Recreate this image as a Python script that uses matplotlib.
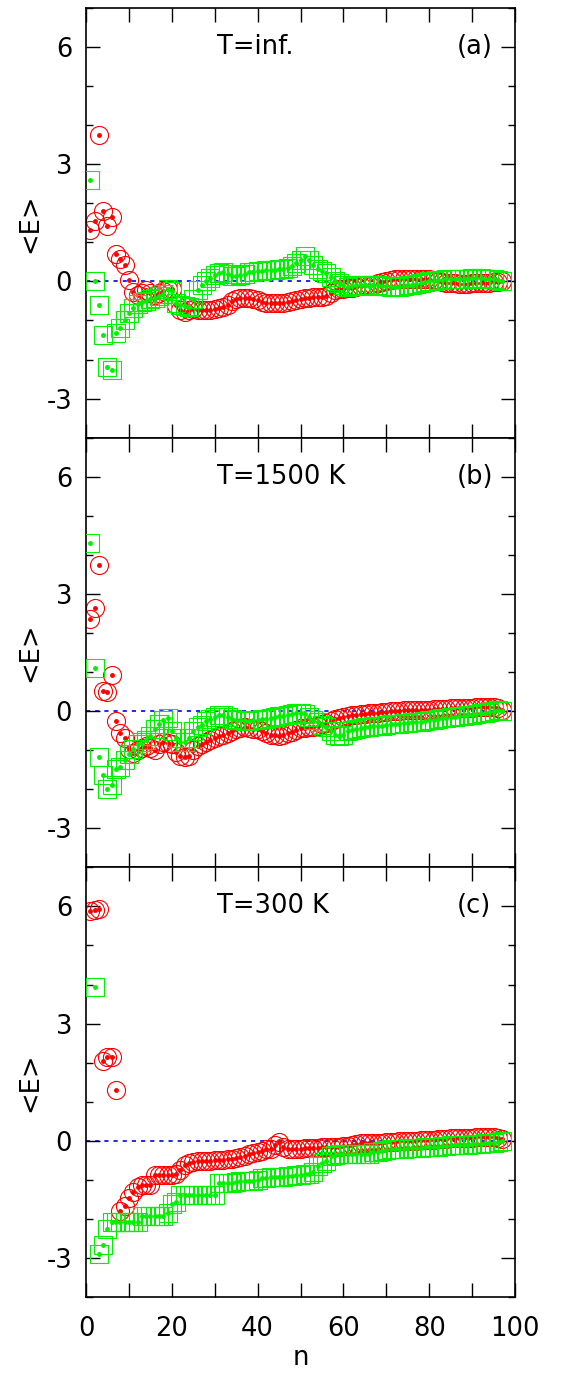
import matplotlib
matplotlib.use("Agg")
import matplotlib.pyplot as plt
from matplotlib.ticker import MultipleLocator, FixedLocator, FuncFormatter

plt.rcParams['font.family'] = ['DejaVu Sans']
plt.rcParams['axes.unicode_minus'] = False

nan = float('nan')
n = list(range(1, 98))

# panel (a) T=inf.
red_a = [1.31, 1.55, 3.75, 1.80, 1.41, 1.65, 0.69, 0.58, 0.41, 0.03,
         -0.27, -0.35, -0.30, -0.22, -0.30, -0.35, -0.30, -0.25, -0.20, -0.20,
         -0.60, -0.72, -0.78, -0.74, -0.70, -0.72, -0.74, -0.74, -0.72, -0.70,
         -0.68, -0.66, -0.60, -0.50, -0.45, -0.42, -0.42, -0.42, -0.45, -0.48,
         -0.52, -0.55, -0.56, -0.56, -0.55, -0.55, -0.53, -0.50, -0.48, -0.45,
         -0.42, -0.42, -0.40, -0.40, -0.40, -0.38, -0.30, -0.23, -0.20, -0.19,
         -0.18, -0.17, -0.15, -0.12, -0.10, -0.10, -0.08, -0.05, -0.02, 0.02,
         0.03, 0.05, 0.06, 0.06, 0.06, 0.05, 0.05, 0.06, 0.06, 0.05,
         0.03, 0.00, -0.02, -0.03, -0.04, -0.05, -0.06, -0.06, -0.06, -0.05,
         -0.04, -0.03, -0.03, -0.03, -0.02, -0.01, 0.00]
green_a = [2.60, 0.00, -0.60, -1.37, -2.18, -2.28, -1.33, -1.20, -1.00, -0.80,
           -0.68, -0.58, -0.53, -0.50, -0.46, -0.42, -0.38, -0.33, -0.20, -0.25,
           -0.55, -0.60, -0.62, -0.66, -0.45, -0.23, -0.08, 0.02, 0.10, 0.17,
           0.22, 0.25, 0.18, 0.14, 0.14, 0.17, 0.20, 0.23, 0.24, 0.26,
           0.27, 0.28, 0.29, 0.30, 0.32, 0.33, 0.35, 0.40, 0.46, 0.56,
           0.64, 0.55, 0.42, 0.33, 0.26, 0.22, 0.12, 0.00, -0.04, -0.10,
           -0.14, -0.13, -0.10, -0.09, -0.10, -0.11, -0.10, -0.10, -0.12, -0.13,
           -0.14, -0.15, -0.15, -0.13, -0.10, -0.08, -0.07, -0.05, -0.02, 0.00,
           0.02, 0.03, 0.04, 0.05, 0.05, 0.06, 0.06, 0.07, 0.07, 0.08,
           0.08, 0.08, 0.07, 0.06, 0.05, 0.03, 0.00]

# panel (b) T=1500 K
red_b = [2.35, 2.63, 3.75, 0.51, 0.49, 0.92, -0.26, -0.56, -0.70, -0.98,
         -1.07, -1.00, -0.95, -0.90, -0.95, -1.00, -0.85, -0.80, -0.82, -0.85,
         -1.05, -1.15, -1.18, -1.14, -1.00, -0.90, -0.85, -0.80, -0.75, -0.70,
         -0.64, -0.60, -0.55, -0.51, -0.45, -0.43, -0.42, -0.43, -0.45, -0.47,
         -0.50, -0.55, -0.60, -0.62, -0.63, -0.60, -0.57, -0.54, -0.48, -0.43,
         -0.43, -0.42, -0.40, -0.37, -0.34, -0.30, -0.25, -0.21, -0.18, -0.15,
         -0.12, -0.10, -0.10, -0.08, -0.07, -0.06, -0.05, -0.04, -0.03, -0.02,
         -0.01, 0.00, 0.01, 0.02, 0.02, 0.03, 0.03, 0.04, 0.04, 0.04,
         0.05, 0.05, 0.06, 0.06, 0.07, 0.07, 0.08, 0.08, 0.09, 0.09,
         0.10, 0.10, 0.10, 0.11, 0.11, 0.08, 0.04]
green_b = [4.31, 1.11, -1.17, -1.64, -1.99, -1.88, -1.49, -1.44, -1.25, -1.10,
           -0.98, -0.85, -0.78, -0.75, -0.65, -0.47, -0.34, -0.24, -0.18, -0.50,
           -0.70, -0.80, -0.80, -0.70, -0.50, -0.42, -0.35, -0.25, -0.19, -0.15,
           -0.10, -0.10, -0.15, -0.20, -0.22, -0.23, -0.25, -0.26, -0.24, -0.22,
           -0.21, -0.20, -0.18, -0.15, -0.13, -0.12, -0.10, -0.07, -0.05, -0.04,
           -0.08, -0.15, -0.22, -0.28, -0.35, -0.42, -0.50, -0.60, -0.64, -0.60,
           -0.52, -0.48, -0.45, -0.43, -0.42, -0.40, -0.39, -0.38, -0.37, -0.36,
           -0.34, -0.33, -0.32, -0.31, -0.30, -0.29, -0.28, -0.27, -0.26, -0.24,
           -0.22, -0.20, -0.18, -0.17, -0.16, -0.14, -0.13, -0.12, -0.10, -0.09,
           -0.08, -0.06, -0.04, -0.02, 0.00, 0.02, 0.00]

# panel (c) T=300 K
red_c = [5.87, 5.92, 5.94, 2.03, 2.14, 2.15, 1.30, -1.80, -1.67, -1.46,
         -1.31, -1.18, -1.14, -1.14, -1.14, -0.88, -0.88, -0.88, -0.88, -0.88,
         -0.86, -0.75, -0.61, -0.56, -0.54, -0.53, -0.52, -0.52, -0.51, -0.50,
         -0.49, -0.48, -0.47, -0.46, -0.44, -0.41, -0.38, -0.35, -0.32, -0.28,
         -0.25, -0.22, -0.20, -0.12, -0.02, -0.15, -0.20, -0.20, -0.20, -0.20,
         -0.19, -0.19, -0.18, -0.18, -0.17, -0.17, -0.16, -0.15, -0.15, -0.14,
         -0.13, -0.12, -0.08, -0.05, -0.05, -0.05, -0.05, -0.05, -0.05, -0.04,
         -0.03, -0.02, -0.01, 0.00, 0.00, 0.00, 0.00, 0.01, 0.02, 0.03,
         0.03, 0.04, 0.05, 0.05, 0.06, 0.06, 0.07, 0.07, 0.08, 0.08,
         0.09, 0.09, 0.10, 0.10, 0.10, 0.08, 0.05]
green_c = [nan, 3.94, -2.90, -2.66, -2.26, -2.09, -2.09, -2.09, -2.09, -2.09,
           -2.09, -2.09, -1.92, -1.92, -1.92, -1.92, -1.92, -1.92, -1.85, -1.63,
           -1.57, -1.38, -1.38, -1.38, -1.38, -1.38, -1.38, -1.38, -1.38, -1.38,
           -1.09, -1.09, -1.09, -1.09, -1.05, -1.03, -1.03, -1.03, -1.02, -1.00,
           -0.95, -0.95, -0.94, -0.93, -0.92, -0.92, -0.90, -0.89, -0.88, -0.87,
           -0.85, -0.84, -0.79, -0.65, -0.58, -0.52, -0.40, -0.37, -0.35, -0.35,
           -0.34, -0.34, -0.33, -0.33, -0.33, -0.33, -0.30, -0.28, -0.26, -0.24,
           -0.22, -0.21, -0.20, -0.20, -0.19, -0.19, -0.18, -0.18, -0.17, -0.17,
           -0.15, -0.15, -0.14, -0.13, -0.12, -0.12, -0.11, -0.10, -0.10, -0.08,
           -0.07, -0.07, -0.06, -0.05, -0.05, -0.03, 0.00]

temps = ["T=inf.", "T=1500 K", "T=300 K"]
tags = ["(a)", "(b)", "(c)"]
reds = [red_a, red_b, red_c]
greens = [green_a, green_b, green_c]

RED = '#ff0000'
GREEN = '#00f000'
FS = 18.5

fig, axes = plt.subplots(3, 1, figsize=(5.66, 13.76), dpi=100, sharex=True)
fig.subplots_adjust(left=0.152, right=0.910, top=0.9942, bottom=0.0574, hspace=0)

for i, ax in enumerate(axes):
    ax.plot([0, 100], [0, 0], color='#0000ff', lw=1.2, ls=(0, (2.5, 3)), zorder=1)
    ax.plot(n, reds[i], 'o', ms=13, mfc='none', mec=RED, mew=0.8, zorder=2)
    ax.plot(n, reds[i], 'o', ms=2.5, color=RED, zorder=2)
    ax.plot(n, greens[i], 's', ms=12.5, mfc='none', mec=GREEN, mew=0.8, zorder=3)
    ax.plot(n, greens[i], 'o', ms=2.5, color=GREEN, zorder=3)

    ax.set_xlim(0, 100)
    ax.set_ylim(-4, 7)
    ax.yaxis.set_major_locator(MultipleLocator(3))
    ax.yaxis.set_minor_locator(MultipleLocator(1))
    ax.xaxis.set_major_locator(FixedLocator(list(range(0, 101, 10))))
    ax.xaxis.set_major_formatter(FuncFormatter(lambda v, p: '%d' % v if int(round(v)) % 20 == 0 else ''))
    ax.tick_params(which='both', direction='in', top=True, right=True, width=1.0, labelsize=FS)
    ax.tick_params(which='major', length=10)
    ax.tick_params(which='minor', length=5)
    ax.tick_params(axis='y', pad=10)
    ax.tick_params(axis='x', pad=14)
    for s in ax.spines.values():
        s.set_linewidth(1.2)

    ax.text(30.5, 6, temps[i], fontsize=FS, va='center', ha='left')
    ax.text(86.5, 6, tags[i], fontsize=FS, va='center', ha='left')

    box = ax.get_position()
    fig.text(30 / 566, (box.y0 + box.y1) / 2, '<E>', rotation=90, fontsize=FS, ha='center', va='center')

fig.text(300.5 / 566, 1 - 1358 / 1376, 'n', fontsize=FS, ha='center', va='center')

fig.savefig('out.png', dpi=100)
